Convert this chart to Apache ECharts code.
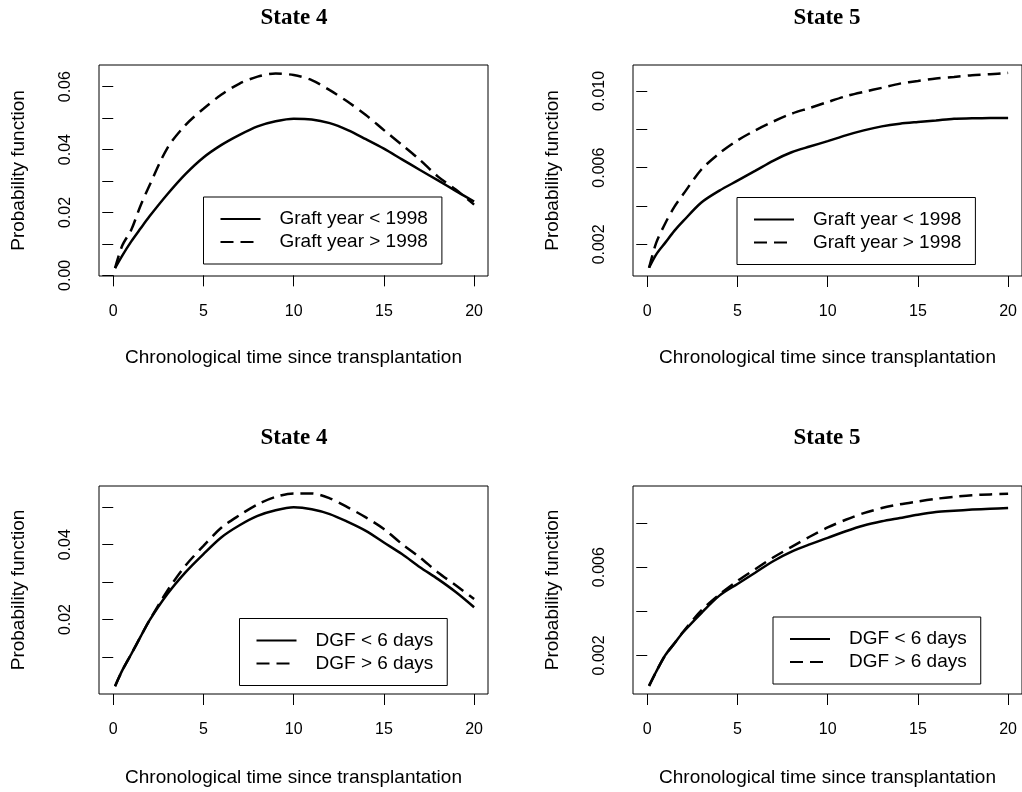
<!DOCTYPE html>
<html>
<head>
<meta charset="utf-8">
<title>State 4 / State 5</title>
<script src="https://cdn.jsdelivr.net/npm/echarts@6/dist/echarts.min.js"></script>
<style>
  html, body { margin: 0; padding: 0; background: #fff; }
  #chart { width: 1022px; height: 792px; }
</style>
</head>
<body>
<div id="chart"></div>
<script>
// time points (years since transplantation)
const timePts = [0.1, 0.5, 1, 1.5, 2, 3, 4, 5, 6, 7, 8, 9, 10, 11, 12, 13, 14, 15, 16, 17, 18, 19, 20]

// State 4, by graft year
const s4GraftBefore = [0.0023, 0.0063, 0.0108, 0.0148, 0.0187, 0.0258, 0.0322, 0.0375, 0.0415, 0.0447, 0.0474, 0.049, 0.0498, 0.0496, 0.0484, 0.0462, 0.0433, 0.0403, 0.0369, 0.0335, 0.0302, 0.0268, 0.0235]
const s4GraftAfter = [0.0023, 0.0095, 0.0145, 0.022, 0.0285, 0.0405, 0.0478, 0.053, 0.0575, 0.061, 0.0632, 0.0642, 0.0637, 0.0621, 0.0589, 0.0552, 0.051, 0.0462, 0.0415, 0.0367, 0.0314, 0.0272, 0.0225]
// State 5, by graft year
const s5GraftBefore = [0.00078, 0.00148, 0.00209, 0.0027, 0.00322, 0.00418, 0.0048, 0.00532, 0.00584, 0.00637, 0.0068, 0.0071, 0.00738, 0.00768, 0.00794, 0.00815, 0.00829, 0.00838, 0.00846, 0.00855, 0.00857, 0.00859, 0.00859]
const s5GraftAfter = [0.00078, 0.00209, 0.0031, 0.00395, 0.00462, 0.0059, 0.00675, 0.00742, 0.00795, 0.00841, 0.00881, 0.00911, 0.00942, 0.00972, 0.00995, 0.01016, 0.01038, 0.01052, 0.01065, 0.01073, 0.01082, 0.01087, 0.01094]
// State 4, by DGF
const s4DgfShort = [0.0022, 0.0064, 0.0108, 0.0153, 0.0197, 0.0268, 0.0326, 0.0375, 0.042, 0.0452, 0.0477, 0.0492, 0.05, 0.0495, 0.0482, 0.0461, 0.0437, 0.0406, 0.0375, 0.034, 0.0308, 0.0273, 0.0233]
const s4DgfLong = [0.0022, 0.0064, 0.0108, 0.0153, 0.0197, 0.0277, 0.0344, 0.0397, 0.0446, 0.0479, 0.0508, 0.0528, 0.0537, 0.0537, 0.0524, 0.05, 0.0473, 0.0442, 0.0402, 0.0366, 0.0326, 0.0291, 0.0255]
// State 5, by DGF
const s5DgfShort = [0.00062, 0.00127, 0.00201, 0.00254, 0.00306, 0.00392, 0.00471, 0.00524, 0.00576, 0.00628, 0.0067, 0.00703, 0.00733, 0.00763, 0.00789, 0.00808, 0.00823, 0.00838, 0.0085, 0.00856, 0.00861, 0.00865, 0.00868]
const s5DgfLong = [0.00062, 0.00127, 0.00201, 0.00254, 0.00308, 0.00404, 0.00476, 0.00538, 0.00592, 0.00645, 0.00692, 0.00738, 0.0078, 0.00815, 0.00845, 0.00868, 0.00885, 0.00898, 0.0091, 0.00919, 0.00926, 0.0093, 0.00933]

const panelTitles = ['State 4', 'State 5', 'State 4', 'State 5']
const graftNames = ['Graft year < 1998', 'Graft year > 1998']
const dgfNames = ['DGF < 6 days', 'DGF > 6 days']
const xTitle = 'Chronological time since transplantation'
const yTitle = 'Probability function'

// tick labels
const xTicks = [0, 5, 10, 15, 20]
const s4GraftTicks = [0, 0.01, 0.02, 0.03, 0.04, 0.05, 0.06]
const s4GraftLabels = [0, 0.02, 0.04, 0.06]
const s5GraftTicks = [0.002, 0.004, 0.006, 0.008, 0.010]
const s5GraftLabels = [0.002, 0.006, 0.010]
const s4DgfTicks = [0, 0.01, 0.02, 0.03, 0.04, 0.05]
const s4DgfLabels = [0, 0.02, 0.04]
const s5DgfTicks = [0.002, 0.004, 0.006, 0.008]
const s5DgfLabels = [0.002, 0.006]

const sans = 'Liberation Sans'
const black = '#000'
const dashed = [13, 7]

const chart = echarts.init(document.getElementById('chart'))

function xAxisFor (i, gap) {
  return {
    type: 'value',
    gridIndex: i,
    min: -0.79,
    max: 20.77,
    name: xTitle,
    nameLocation: 'middle',
    nameGap: gap,
    nameTextStyle: { fontFamily: sans, fontSize: 19, color: black },
    axisLine: { show: false },
    splitLine: { show: false },
    axisTick: { show: true, inside: false, length: 11, customValues: xTicks, lineStyle: { color: black, width: 1 } },
    axisLabel: { customValues: xTicks, margin: 28, fontFamily: sans, fontSize: 16, color: black }
  }
}

function yAxisFor (i, min, max, ticks, labels, digits) {
  return {
    type: 'value',
    gridIndex: i,
    min: min,
    max: max,
    name: yTitle,
    nameLocation: 'middle',
    nameGap: 71,
    nameTextStyle: { fontFamily: sans, fontSize: 19, color: black },
    axisLine: { show: false },
    splitLine: { show: false },
    axisTick: { show: true, inside: false, length: 11, customValues: ticks, lineStyle: { color: black, width: 1 } },
    axisLabel: {
      customValues: labels,
      rotate: 90,
      margin: 25,
      fontFamily: sans,
      fontSize: 16,
      color: black,
      formatter: v => v.toFixed(digits)
    }
  }
}

function legendFor (names, left, top) {
  return {
    data: names,
    orient: 'vertical',
    left: left,
    top: top,
    selectedMode: false,
    itemWidth: 40,
    itemHeight: 14,
    itemGap: 3,
    padding: [12, 14, 12, 16],
    borderColor: black,
    borderWidth: 1,
    backgroundColor: '#fff',
    // hide the symbol drawn in the middle of the line icon
    itemStyle: { opacity: 0, borderWidth: 0 },
    textStyle: { fontFamily: sans, fontSize: 19, color: black, lineHeight: 20, padding: [0, 0, 0, 14] }
  }
}

function lineFor (i, name, values, type) {
  return {
    type: 'line',
    name: name,
    xAxisIndex: i,
    yAxisIndex: i,
    data: timePts.map((t, k) => [t, values[k]]),
    symbol: 'none',
    smooth: 0.3,
    lineStyle: { color: black, width: 2.5, type: type },
    itemStyle: { color: black },
    z: type === 'solid' ? 3 : 2
  }
}

const titleCenters = [[294, 18.5], [827, 18.5], [294, 438.5], [827, 438.5]]

const option = {
  animation: false,
  backgroundColor: '#fff',
  title: panelTitles.map((t, i) => ({
    text: t,
    left: titleCenters[i][0],
    top: titleCenters[i][1],
    textAlign: 'center',
    textVerticalAlign: 'middle',
    padding: 0,
    textStyle: { fontFamily: 'Liberation Serif', fontWeight: 'bold', fontSize: 23, color: black }
  })),
  grid: [
    { left: 99, top: 65, width: 389, height: 211 },
    { left: 633, top: 65, width: 389, height: 211 },
    { left: 99, top: 486, width: 389, height: 208 },
    { left: 633, top: 486, width: 389, height: 208 }
  ].map(g => Object.assign({ show: true, borderColor: black, borderWidth: 1, containLabel: false }, g)),
  xAxis: [xAxisFor(0, 72), xAxisFor(1, 72), xAxisFor(2, 74), xAxisFor(3, 74)],
  yAxis: [
    yAxisFor(0, -0.0002, 0.0669, s4GraftTicks, s4GraftLabels, 2),
    yAxisFor(1, 0.00035, 0.01135, s5GraftTicks, s5GraftLabels, 3),
    yAxisFor(2, 0.0001, 0.0557, s4DgfTicks, s4DgfLabels, 2),
    yAxisFor(3, 0.00025, 0.00968, s5DgfTicks, s5DgfLabels, 3)
  ],
  legend: [
    legendFor(graftNames, 203.5, 197),
    legendFor(graftNames, 737, 197.5),
    legendFor(dgfNames, 239.5, 618.5),
    legendFor(dgfNames, 773, 617)
  ],
  series: [
    lineFor(0, graftNames[0], s4GraftBefore, 'solid'),
    lineFor(0, graftNames[1], s4GraftAfter, dashed),
    lineFor(1, graftNames[0], s5GraftBefore, 'solid'),
    lineFor(1, graftNames[1], s5GraftAfter, dashed),
    lineFor(2, dgfNames[0], s4DgfShort, 'solid'),
    lineFor(2, dgfNames[1], s4DgfLong, dashed),
    lineFor(3, dgfNames[0], s5DgfShort, 'solid'),
    lineFor(3, dgfNames[1], s5DgfLong, dashed)
  ]
}

chart.setOption(option)
</script>
</body>
</html>
